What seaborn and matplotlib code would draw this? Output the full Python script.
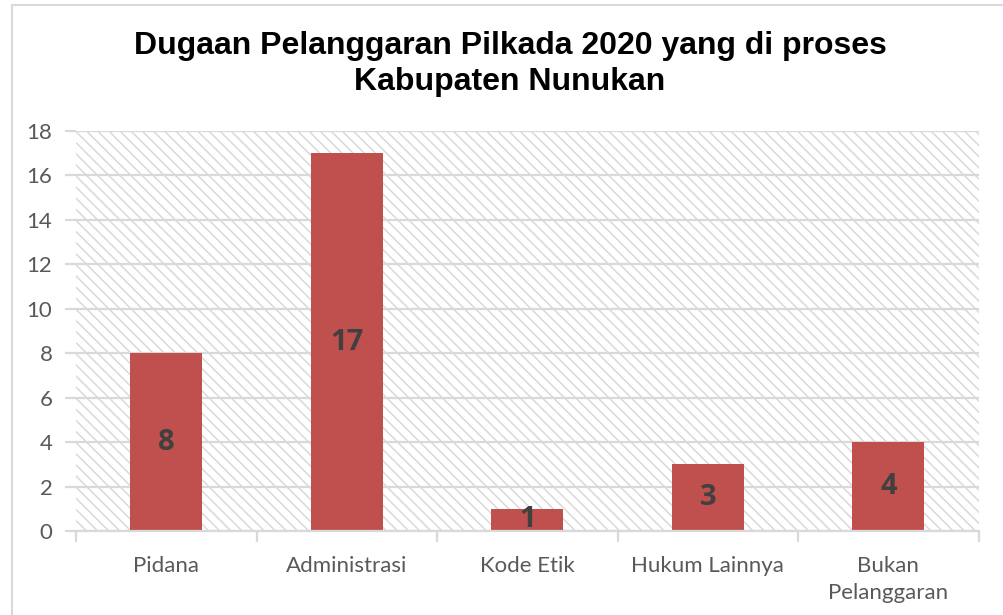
import matplotlib
matplotlib.use("Agg")
import matplotlib.pyplot as plt
from matplotlib.patches import Rectangle
import pandas as pd
import seaborn as sns

# data
categories = ["Pidana", "Administrasi", "Kode Etik", "Hukum Lainnya", "Bukan\nPelanggaran"]
counts = [8, 17, 1, 3, 4]
yticks = [0, 2, 4, 6, 8, 10, 12, 14, 16, 18]

red = "#C0504D"
grid_grey = "#d9d9d9"
text_grey = "#595959"

sns.set_style("white")
plt.rcParams["font.family"] = ["Lato", "DejaVu Sans"]
plt.rcParams["hatch.color"] = "#d9d9d9"
plt.rcParams["hatch.linewidth"] = 1.1

df = pd.DataFrame({"kategori": categories, "jumlah": counts})

fig = plt.figure(figsize=(10.04, 6.15), dpi=100)
ax = fig.add_axes([0.0757, 0.1366, 0.899, 0.6504])

# hatched plot area
ax.patch.set_hatch("\\" * 3)
ax.patch.set_edgecolor("#d9d9d9")
ax.patch.set_linewidth(0)

sns.barplot(data=df, x="kategori", y="jumlah", color=red, saturation=1,
            width=0.4, ax=ax, zorder=3, linewidth=0)

ax.set_ylim(0, 18)
ax.set_xlim(-0.5, len(categories) - 0.5)
ax.set_yticks(yticks)
ax.yaxis.grid(True, color=grid_grey, linewidth=1.6, zorder=1)
ax.set_axisbelow(True)
ax.set_xlabel("")
ax.set_ylabel("")

for s in ["top", "right", "left"]:
    ax.spines[s].set_visible(False)
ax.spines["bottom"].set_color(grid_grey)
ax.spines["bottom"].set_linewidth(1.6)
ax.spines["bottom"].set_zorder(4)

ax.tick_params(axis="y", length=8, width=1.6, color=grid_grey, pad=9,
               labelsize=16, labelcolor=text_grey, left=True)
ax.tick_params(axis="x", which="major", length=0, pad=18,
               labelsize=16, labelcolor=text_grey)
ax.set_xticks([i - 0.5 for i in range(len(categories) + 1)], minor=True)
ax.tick_params(axis="x", which="minor", length=8, width=1.6, color=grid_grey, bottom=True)
for lbl in ax.get_xticklabels():
    lbl.set_linespacing(1.45)

for cont in ax.containers:
    ax.bar_label(cont, label_type="center", fontsize=21, fontweight="bold",
                 color="#404040", family=["Open Sans", "DejaVu Sans"])

# title
fig.text(0.508, 0.896, "Dugaan Pelanggaran Pilkada 2020 yang di proses\nKabupaten Nunukan",
         ha="center", va="center", fontsize=23, fontweight="bold",
         family=["Liberation Sans", "DejaVu Sans"], linespacing=1.25, color="black")

# chart border
fig.patches.append(Rectangle((12 / 1004, -0.05), 1.1, 1.05 - 5 / 615,
                             transform=fig.transFigure, fill=False,
                             edgecolor=grid_grey, linewidth=1.5))

fig.savefig("out.png", dpi=100)
